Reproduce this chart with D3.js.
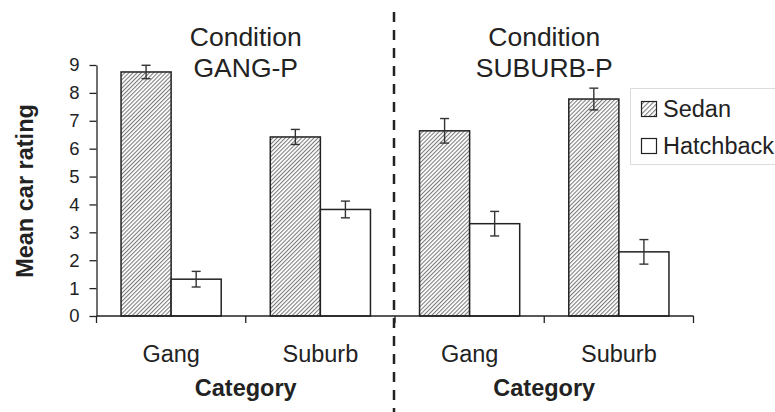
<!DOCTYPE html>
<html>
<head>
<meta charset="utf-8">
<script src="https://cdn.jsdelivr.net/npm/d3@7"></script>
<style>
  html, body { margin: 0; padding: 0; background: #fff; }
  svg { display: block; font-family: "Liberation Sans", Arial, sans-serif; }
</style>
</head>
<body>
<svg id="chart" width="775" height="412"></svg>
<script>
// Panels (conditions), categories inside each panel, and the two car types.
const conditions = ["GANG-P", "SUBURB-P"];
const categories = ["Gang", "Suburb"];
const series = ["Sedan", "Hatchback"];

// Means and error half-widths, ordered condition by condition, category by category.
const sedanMean = [8.75, 6.42, 6.64, 7.78];
const sedanErr  = [0.24, 0.27, 0.44, 0.39];
const hatchMean = [1.32, 3.82, 3.31, 2.30];
const hatchErr  = [0.28, 0.30, 0.44, 0.44];

const yTicks = [0, 1, 2, 3, 4, 5, 6, 7, 8, 9];

const rows = [];
conditions.forEach((cond, ci) => {
  categories.forEach((cat, ki) => {
    const i = ci * categories.length + ki;
    rows.push({ cond, cat, key: "Sedan", value: sedanMean[i], err: sedanErr[i] });
    rows.push({ cond, cat, key: "Hatchback", value: hatchMean[i], err: hatchErr[i] });
  });
});

const svg = d3.select("#chart");
const ink = "#222";

// Diagonal hatching for the sedan bars
const defs = svg.append("defs");
function hatch(id, step, w, col) {
  const p = defs.append("pattern")
    .attr("id", id)
    .attr("patternUnits", "userSpaceOnUse")
    .attr("width", step).attr("height", step)
    .attr("patternTransform", "rotate(45)");
  p.append("rect").attr("width", step).attr("height", step).attr("fill", "#fff");
  p.append("line")
    .attr("x1", 0.5).attr("y1", 0).attr("x2", 0.5).attr("y2", step)
    .attr("stroke", col).attr("stroke-width", w);
}
hatch("hatch", 2.9, 1.1, "#7a7a7a");
hatch("hatchLegend", 3.4, 1.1, "#777");

const x0 = 96.5, x1 = 693.5, yBase = 316, yTop = 65;

const xCond = d3.scaleBand().domain(conditions).range([x0, x1]).padding(0);
const xCat = d3.scaleBand().domain(categories).range([0, xCond.bandwidth()]).padding(0);
const xSer = d3.scaleBand().domain(series).range([0, xCat.bandwidth()])
  .paddingInner(0).paddingOuter(0.49);
const y = d3.scaleLinear().domain([0, 9]).range([yBase, yTop]);

const fillFor = k => k === "Sedan" ? "url(#hatch)" : "#fff";
const barX = d => xCond(d.cond) + xCat(d.cat) + xSer(d.key);

// Bars
svg.append("g").selectAll("rect").data(rows).join("rect")
  .attr("x", barX)
  .attr("y", d => y(d.value))
  .attr("width", xSer.bandwidth())
  .attr("height", d => y(0) - y(d.value))
  .attr("fill", d => fillFor(d.key))
  .attr("stroke", ink)
  .attr("stroke-width", 1.5);

// Error bars
const eb = svg.append("g").attr("stroke", "#333").attr("stroke-width", 1.4).attr("fill", "none");
const cap = 4.5;
rows.forEach(d => {
  const cx = barX(d) + xSer.bandwidth() / 2;
  const yHi = y(d.value + d.err), yLo = y(d.value - d.err);
  eb.append("line").attr("x1", cx).attr("x2", cx).attr("y1", yHi).attr("y2", yLo);
  eb.append("line").attr("x1", cx - cap).attr("x2", cx + cap).attr("y1", yHi).attr("y2", yHi);
  eb.append("line").attr("x1", cx - cap).attr("x2", cx + cap).attr("y1", yLo).attr("y2", yLo);
});

// Y axis
const yAxis = svg.append("g")
  .attr("transform", `translate(${x0},0)`)
  .call(d3.axisLeft(y).tickValues(yTicks).tickFormat(d3.format("d")).tickSize(7).tickPadding(10).tickSizeOuter(0));
yAxis.select(".domain").attr("stroke", ink).attr("stroke-width", 1.3);
yAxis.selectAll(".tick line").attr("stroke", ink).attr("stroke-width", 1.3);
yAxis.selectAll(".tick text")
  .attr("fill", ink)
  .style("font-size", "18.5px")
  .style("font-family", "'Liberation Sans', Arial, sans-serif");

// X axis baseline with ticks at category boundaries
const xg = svg.append("g").attr("stroke", ink).attr("stroke-width", 1.3);
xg.append("line").attr("x1", x0).attr("x2", x1).attr("y1", yBase).attr("y2", yBase);
const boundaries = [];
conditions.forEach(c => categories.forEach(k => boundaries.push(xCond(c) + xCat(k))));
boundaries.push(x1);
xg.selectAll(".tk").data(boundaries).join("line")
  .attr("x1", d => d).attr("x2", d => d)
  .attr("y1", yBase).attr("y2", yBase + 7);

// Category labels and axis titles per panel
const labels = svg.append("g").attr("fill", ink).attr("text-anchor", "middle");
conditions.forEach(c => {
  categories.forEach(k => {
    labels.append("text")
      .attr("x", xCond(c) + xCat(k) + xCat.bandwidth() / 2)
      .attr("y", 362)
      .style("font-size", "23.5px")
      .text(k);
  });
  const mid = xCond(c) + xCond.bandwidth() / 2;
  labels.append("text")
    .attr("x", mid).attr("y", 396)
    .style("font-size", "23.5px").style("font-weight", "bold")
    .text("Category");
  labels.append("text")
    .attr("x", mid).attr("y", 46)
    .style("font-size", "26.5px")
    .text("Condition");
  labels.append("text")
    .attr("x", mid).attr("y", 76.5)
    .style("font-size", "26.5px")
    .text(c);
});

// Y axis title
svg.append("text")
  .attr("transform", "translate(33,191) rotate(-90)")
  .attr("text-anchor", "middle")
  .attr("fill", ink)
  .style("font-size", "23.5px").style("font-weight", "bold")
  .text("Mean car rating");

// Dashed separator between the two conditions
svg.append("line")
  .attr("x1", xCond(conditions[1]) - 1).attr("x2", xCond(conditions[1]) - 1)
  .attr("y1", 12).attr("y2", 412)
  .attr("stroke", ink).attr("stroke-width", 2.5)
  .attr("stroke-dasharray", "10,8");

// Legend
const lg = svg.append("g");
lg.append("rect")
  .attr("x", 630.5).attr("y", 88.5).attr("width", 160).attr("height", 76)
  .attr("fill", "#fff").attr("stroke", "#dcdcdc").attr("stroke-width", 1);
series.forEach((s, i) => {
  const yy = 101.5 + i * 37;
  lg.append("rect")
    .attr("x", 641.5).attr("y", yy).attr("width", 15).attr("height", 15)
    .attr("fill", s === "Sedan" ? "url(#hatchLegend)" : "#fff")
    .attr("stroke", ink).attr("stroke-width", 1.2);
  lg.append("text")
    .attr("x", 663).attr("y", yy + 15)
    .attr("fill", ink)
    .style("font-size", "23.5px")
    .text(s);
});
</script>
</body>
</html>
